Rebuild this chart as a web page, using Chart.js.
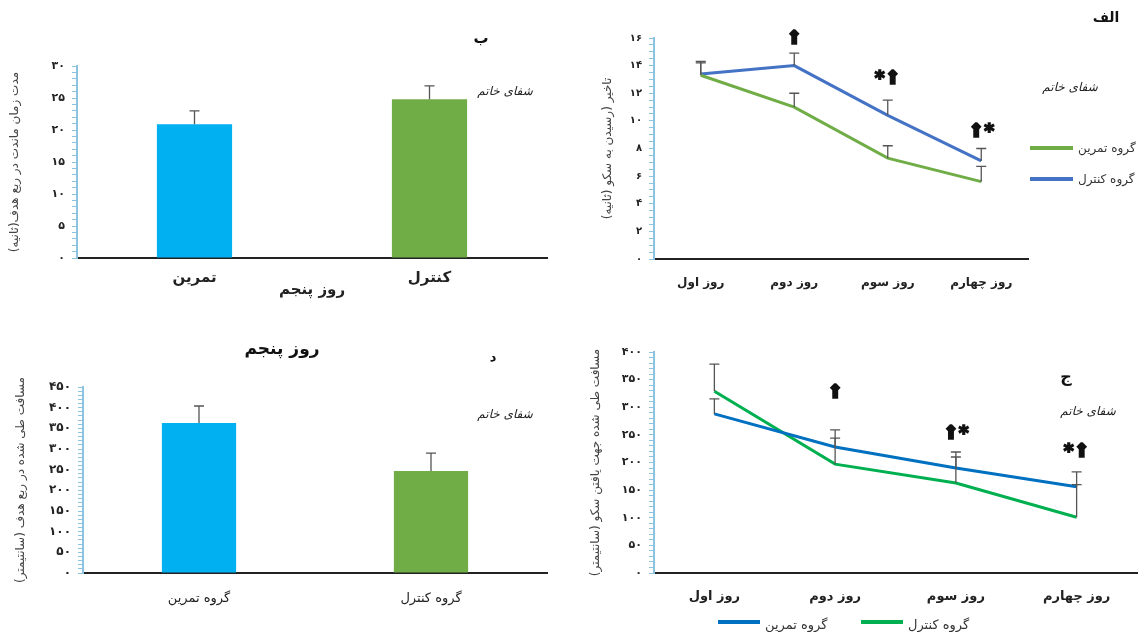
<!DOCTYPE html>
<html>
<head>
<meta charset="utf-8">
<script src="https://cdn.jsdelivr.net/npm/chart.js@4.4.1/dist/chart.umd.min.js"></script>
<style>
  body { margin: 0; background: #fff; width: 1142px; height: 632px; overflow: hidden; position: relative; }
  canvas { position: absolute; }
</style>
</head>
<body>
<canvas id="chartB" width="560" height="310" style="left:0;top:0"></canvas>
<canvas id="chartAlef" width="562" height="310" style="left:580px;top:0"></canvas>
<canvas id="chartD" width="560" height="312" style="left:0;top:320px"></canvas>
<canvas id="chartJ" width="562" height="312" style="left:580px;top:320px"></canvas>
<script>
// data
const dayLabels = ["روز اول", "روز دوم", "روز سوم", "روز چهارم"];
const groupShort = ["تمرین", "کنترل"];
const groupLong = ["گروه تمرین", "گروه کنترل"];

// الف - latency to platform (s)
const latencyTraining = [13.3, 11.0, 7.3, 5.6];
const latencyTrainingErr = [0.9, 1.0, 0.9, 1.1];
const latencyControl = [13.4, 14.0, 10.4, 7.1];
const latencyControlErr = [0.9, 0.9, 1.1, 0.9];
const latencyMarks = ["", "⇑", "*⇑", "⇑*"];
const latencyMarkAt = [0, 15.9, 13.0, 9.2];

// ب - time in target quadrant, day 5 (s)
const stayTime = [20.9, 24.8];
const stayTimeErr = [2.1, 2.1];

// ج - distance to find platform (cm)
const distTraining = [288, 228, 190, 156];
const distTrainingErr = [27, 16, 20, 4];
const distControl = [329, 197, 163, 101];
const distControlErr = [49, 62, 56, 82];
const distMarks = ["", "⇑", "⇑*", "*⇑"];
const distMarkAt = [0, 326, 252, 219];

// د - distance in target quadrant, day 5 (cm)
const quadDist = [363, 247];
const quadDistErr = [41, 43];

const FONT = "'DejaVu Sans', sans-serif";
Chart.defaults.font.family = FONT;
Chart.defaults.color = "#222";

const fa = (n) => String(n).replace(/\d/g, (d) => "۰۱۲۳۴۵۶۷۸۹"[d]);

// upward error bars from dataset.errors
const errorBars = {
  id: "errorBars",
  afterDatasetsDraw(chart) {
    const ctx = chart.ctx;
    const y = chart.scales.y;
    chart.data.datasets.forEach((ds, i) => {
      if (!ds.errors) return;
      const meta = chart.getDatasetMeta(i);
      ctx.save();
      ctx.strokeStyle = "#555";
      ctx.lineWidth = 1.3;
      meta.data.forEach((el, j) => {
        const top = y.getPixelForValue(ds.data[j] + ds.errors[j]);
        ctx.beginPath();
        ctx.moveTo(el.x, y.getPixelForValue(ds.data[j]));
        ctx.lineTo(el.x, top);
        ctx.moveTo(el.x - 5, top);
        ctx.lineTo(el.x + 5, top);
        ctx.stroke();
      });
      ctx.restore();
    });
  },
};

// significance marks, panel letters, logo text, legends
const notes = {
  id: "notes",
  afterDraw(chart, args, opts) {
    const ctx = chart.ctx;
    ctx.save();
    ctx.textAlign = "center";
    ctx.textBaseline = "middle";
    (opts.marks || []).forEach((m, i) => {
      if (!m) return;
      const px = chart.scales.x.getPixelForValue(i);
      const py = chart.scales.y.getPixelForValue(opts.markAt[i]);
      ctx.font = "bold 19px " + FONT;
      ctx.fillStyle = "#111";
      ctx.strokeStyle = "#111";
      ctx.lineWidth = 1.6;
      ctx.fillText(m, px, py);
      ctx.strokeText(m, px, py);
    });
    (opts.texts || []).forEach((t) => {
      ctx.font = t.font;
      ctx.fillStyle = t.color || "#111";
      ctx.fillText(t.text, t.x, t.y);
    });
    const lg = opts.legend;
    if (lg) {
      let x = lg.x, y = lg.y;
      chart.data.datasets.forEach((ds) => {
        ctx.strokeStyle = ds.borderColor;
        ctx.lineWidth = 4;
        ctx.beginPath();
        ctx.moveTo(x, y);
        ctx.lineTo(x + lg.len, y);
        ctx.stroke();
        ctx.font = lg.font;
        ctx.fillStyle = "#333";
        ctx.textAlign = "left";
        ctx.fillText(ds.label, x + lg.len + 5, y + lg.textDy);
        if (lg.dir === "down") y += lg.step;
        else x += lg.step;
      });
    }
    ctx.restore();
  },
};

function yAxis(max, step, every, width, title, titlePad, tickSize) {
  return {
    min: 0,
    max: max,
    afterFit(scale) { scale.width = width; },
    border: { color: "#8cc3e0", width: 2 },
    grid: { drawOnChartArea: false, tickLength: 5, tickColor: "#8cc3e0" },
    ticks: {
      stepSize: step,
      autoSkip: false,
      padding: 7,
      font: { size: tickSize, weight: "bold" },
      callback: (v) => (Math.abs(v / every - Math.round(v / every)) < 1e-6 ? fa(Math.round(v)) : ""),
    },
    title: { display: true, text: title, font: { size: 12 }, color: "#444", padding: { top: titlePad, bottom: 0 } },
  };
}

function xAxis(height, labelFont, pad, title) {
  const ax = {
    offset: true,
    afterFit(scale) { scale.height = height; },
    border: { color: "#222", width: 2 },
    grid: { display: false },
    ticks: { maxRotation: 0, padding: pad, font: labelFont },
  };
  if (title) ax.title = title;
  return ax;
}

const logo = (x, y) => ({ text: "شفای خاتم", x: x, y: y, font: "italic 12px " + FONT, color: "#222" });

// ب
new Chart(document.getElementById("chartB"), {
  type: "bar",
  data: {
    labels: groupShort,
    datasets: [{
      data: stayTime,
      errors: stayTimeErr,
      backgroundColor: ["#00B0F0", "#70AD47"],
      categoryPercentage: 1,
      barPercentage: 0.32,
    }],
  },
  options: {
    responsive: false,
    animation: false,
    layout: { padding: { top: 66, right: 13, left: 0, bottom: 0 } },
    plugins: {
      legend: { display: false },
      tooltip: { enabled: false },
      notes: { texts: [
        { text: "ب", x: 481, y: 39, font: "bold 15px " + FONT },
        logo(505, 92),
      ] },
    },
    scales: {
      x: xAxis(52, { size: 15, weight: "bold" }, 3,
        { display: true, text: "روز پنجم", font: { size: 15, weight: "bold" }, padding: { top: 0, bottom: 11 } }),
      y: yAxis(30, 1, 5, 77, "مدت زمان ماندت در ربع هدف(ثانیه)", 8, 11),
    },
  },
  plugins: [errorBars, notes],
});

// الف
new Chart(document.getElementById("chartAlef"), {
  type: "line",
  data: {
    labels: dayLabels,
    datasets: [
      { label: "گروه تمرین", data: latencyTraining, errors: latencyTrainingErr, borderColor: "#70AD47", borderWidth: 3, pointRadius: 0, tension: 0 },
      { label: "گروه کنترل", data: latencyControl, errors: latencyControlErr, borderColor: "#4472C4", borderWidth: 3, pointRadius: 0, tension: 0 },
    ],
  },
  options: {
    responsive: false,
    animation: false,
    layout: { padding: { top: 38, right: 114, left: 0, bottom: 0 } },
    plugins: {
      legend: { display: false },
      tooltip: { enabled: false },
      notes: {
        marks: latencyMarks,
        markAt: latencyMarkAt,
        texts: [
          { text: "الف", x: 526, y: 18, font: "bold 14px " + FONT },
          logo(490, 88),
        ],
        legend: { x: 450, y: 148, len: 43, step: 31, dir: "down", font: "12px " + FONT, textDy: 1 },
      },
    },
    scales: {
      x: xAxis(51, { size: 12, weight: "bold" }, 9),
      y: yAxis(16, 0.5, 2, 74, "تاخیر (رسیدن به سکو (ثانیه)", 21, 10),
    },
  },
  plugins: [errorBars, notes],
});

// د
new Chart(document.getElementById("chartD"), {
  type: "bar",
  data: {
    labels: groupLong,
    datasets: [{
      data: quadDist,
      errors: quadDistErr,
      backgroundColor: ["#00B0F0", "#70AD47"],
      categoryPercentage: 1,
      barPercentage: 0.32,
    }],
  },
  options: {
    responsive: false,
    animation: false,
    layout: { padding: { top: 67, right: 13, left: 0, bottom: 0 } },
    plugins: {
      legend: { display: false },
      tooltip: { enabled: false },
      notes: { texts: [
        { text: "روز پنجم", x: 282, y: 30, font: "bold 17px " + FONT },
        { text: "د", x: 493, y: 38, font: "bold 13px " + FONT },
        logo(505, 95),
      ] },
    },
    scales: {
      x: xAxis(59, { size: 13 }, 10),
      y: yAxis(450, 10, 50, 83, "مسافت طی شده در ربع هدف (سانتیمتر)", 14, 12),
    },
  },
  plugins: [errorBars, notes],
});

// ج
new Chart(document.getElementById("chartJ"), {
  type: "line",
  data: {
    labels: dayLabels,
    datasets: [
      { label: "گروه تمرین", data: distTraining, errors: distTrainingErr, borderColor: "#0070C0", borderWidth: 3, pointRadius: 0, tension: 0 },
      { label: "گروه کنترل", data: distControl, errors: distControlErr, borderColor: "#00B050", borderWidth: 3, pointRadius: 0, tension: 0 },
    ],
  },
  options: {
    responsive: false,
    animation: false,
    layout: { padding: { top: 32, right: 5, left: 0, bottom: 0 } },
    plugins: {
      legend: { display: false },
      tooltip: { enabled: false },
      notes: {
        marks: distMarks,
        markAt: distMarkAt,
        texts: [
          { text: "ج", x: 486, y: 58, font: "bold 16px " + FONT },
          logo(508, 92),
        ],
        legend: { x: 138, y: 302, len: 42, step: 143, dir: "right", font: "13px " + FONT, textDy: 4 },
      },
    },
    scales: {
      x: xAxis(59, { size: 13, weight: "bold" }, 8),
      y: yAxis(400, 10, 50, 74, "مسافت طی شده جهت یافتن سکو (سانتیمتر)", 9, 11),
    },
  },
  plugins: [errorBars, notes],
});
</script>
</body>
</html>
